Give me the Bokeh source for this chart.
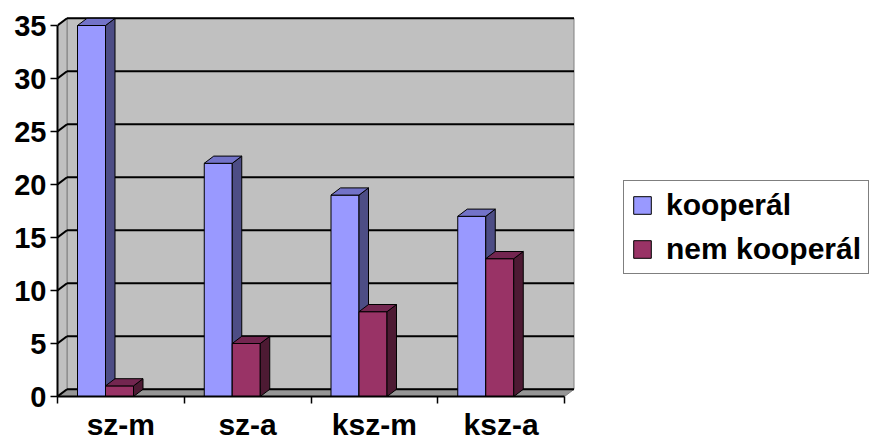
import numpy as np
from bokeh.plotting import figure
from bokeh.models import Range1d, FixedTicker, Legend, LegendItem, LinearAxis
from bokeh.embed import file_html
from bokeh.resources import INLINE

# ---- data ----
categories = ["sz-m", "sz-a", "ksz-m", "ksz-a"]
kooperal = [35, 22, 19, 17]
nem_kooperal = [1, 5, 8, 13]
y_ticks = [0, 5, 10, 15, 20, 25, 30, 35]
series_names = ["kooperál", "nem kooperál"]

# ---- style / layout ----
W, H = 872, 443
LEFT, BOTTOM = 57, 47
PX_CAT = 126.75
PX_UNIT = 10.6
x_end = (W - LEFT) / PX_CAT
y_end = (H - BOTTOM) / PX_UNIT
DX = 9.5 / PX_CAT       # depth offset (x, data units)
DY = 7.2 / PX_UNIT      # depth offset (y, data units)
BAR_OFF = 20 / PX_CAT
BAR_W = 28 / PX_CAT
FONT = "Arial"

n = len(categories)
ymax = max(y_ticks)

p = figure(width=W, height=H, output_backend="svg", toolbar_location=None,
           x_range=Range1d(0, x_end), y_range=Range1d(0, y_end),
           min_border_left=LEFT, min_border_bottom=BOTTOM,
           min_border_top=0, min_border_right=0,
           x_axis_type=None, y_axis_type=None)
p.outline_line_color = None
p.xgrid.visible = False
p.ygrid.visible = False
p.background_fill_color = "white"

# walls
p.patch([DX, n + DX, n + DX, DX], [DY, DY, ymax + DY, ymax + DY],
        fill_color="#C0C0C0", line_color="#808080", line_width=1)
p.patch([0, DX, DX, 0], [0, DY, ymax + DY, ymax],
        fill_color="#C0C0C0", line_color="#808080", line_width=1)
p.patch([0, n, n + DX, DX], [0, 0, DY, DY],
        fill_color="#969696", line_color="#808080", line_width=1)

# gridlines on back wall and side wall
gx0, gx1, gy0, gy1 = [], [], [], []
for v in y_ticks:
    gx0 += [DX, 0]
    gx1 += [n + DX, DX]
    gy0 += [v + DY, v]
    gy1 += [v + DY, v + DY]
p.segment(gx0, gy0, gx1, gy1, line_color="black", line_width=2)

# bars
faces = [("#9999FF", "#7373C8", "#4D4D85"), ("#993366", "#732650", "#4D1A33")]
front_renderers = []
for si, vals in enumerate([kooperal, nem_kooperal]):
    front, top, side = faces[si]
    x0 = [i + BAR_OFF + si * BAR_W for i in range(n)]
    x1 = [a + BAR_W for a in x0]
    side_xs = [[b, b + DX, b + DX, b] for b in x1]
    side_ys = [[0, DY, v + DY, v] for v in vals]
    top_xs = [[a, b, b + DX, a + DX] for a, b in zip(x0, x1)]
    top_ys = [[v, v, v + DY, v + DY] for v in vals]
    r = p.quad(left=x0, right=x1, bottom=0, top=vals,
               fill_color=front, line_color="black", line_width=1)
    p.patches(side_xs, side_ys, fill_color=side, line_color="black", line_width=1)
    p.patches(top_xs, top_ys, fill_color=top, line_color="black", line_width=1)
    front_renderers.append(r)

# axes
yax = LinearAxis(ticker=FixedTicker(ticks=y_ticks), bounds=(0, ymax))
yax.axis_line_width = 2
yax.major_tick_line_width = 1.5
yax.major_tick_out = 7
yax.major_tick_in = 0
yax.minor_tick_out = 0
yax.major_label_standoff = 4
yax.major_label_text_font = FONT
yax.major_label_text_font_style = "bold"
yax.major_label_text_font_size = "29px"
yax.major_label_text_color = "black"
p.add_layout(yax, "left")

centers = [i + 0.5 for i in range(n)]
xax = LinearAxis(ticker=FixedTicker(ticks=centers, minor_ticks=list(range(n + 1))),
                 bounds=(0, n))
xax.major_label_overrides = {c: lab for c, lab in zip(centers, categories)}
xax.axis_line_width = 2
xax.major_tick_out = 0
xax.major_tick_in = 0
xax.minor_tick_out = 7
xax.minor_tick_in = 0
xax.minor_tick_line_width = 1.5
xax.major_label_standoff = 4
xax.major_label_text_font = FONT
xax.major_label_text_font_style = "bold"
xax.major_label_text_font_size = "30px"
xax.major_label_text_color = "black"
p.add_layout(xax, "below")

# legend
legend = Legend(items=[LegendItem(label=series_names[i], renderers=[front_renderers[i]])
                       for i in range(2)],
                location=(566, 122))
legend.border_line_color = "black"
legend.border_line_width = 1.5
legend.background_fill_color = "white"
legend.background_fill_alpha = 1
legend.glyph_width = 22
legend.glyph_height = 22
legend.label_standoff = 13
legend.label_text_font = FONT
legend.label_text_font_style = "bold"
legend.label_text_font_size = "30px"
legend.label_text_color = "black"
legend.label_height = 22
legend.spacing = 10
legend.padding = 7
legend.margin = 0
p.add_layout(legend, "center")

open("out.html", "w").write(file_html(p, INLINE))
